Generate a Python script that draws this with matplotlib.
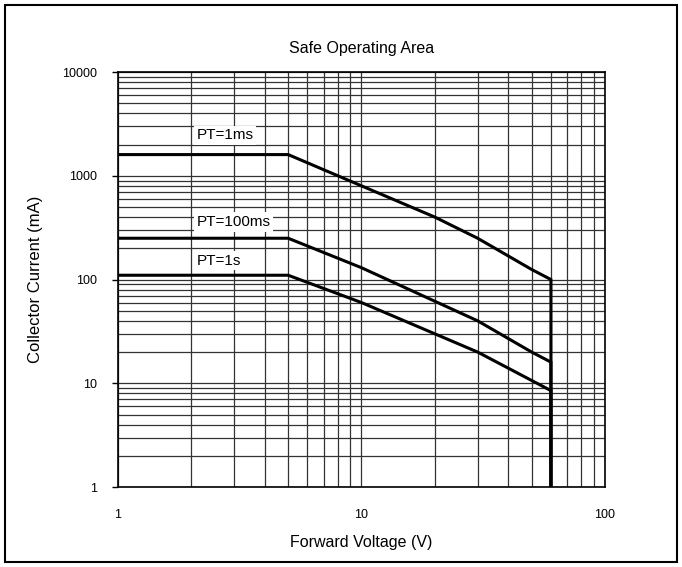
import matplotlib
matplotlib.use('Agg')
import matplotlib.pyplot as plt
from matplotlib.patches import Rectangle
from matplotlib.ticker import LogLocator, NullFormatter, FixedLocator

plt.rcParams['font.family'] = ['Liberation Sans', 'DejaVu Sans']

# safe operating area curves (V, mA)
v_1ms = [1, 5, 10, 20, 30, 50, 60, 60]
i_1ms = [1600, 1600, 800, 400, 250, 125, 100, 1]
v_100ms = [1, 5, 10, 30, 50, 60, 60]
i_100ms = [250, 250, 130, 40, 20, 16, 1]
v_1s = [1, 5, 10, 30, 60, 60]
i_1s = [110, 110, 60, 20, 8.5, 1]

labels = ['PT=1ms', 'PT=100ms', 'PT=1s']
label_pos = [(2.1, 2450), (2.1, 360), (2.1, 152)]

x_ticks = [1, 10, 100]
y_ticks = [1, 10, 100, 1000, 10000]

fig = plt.figure(figsize=(6.82, 5.67), dpi=100)
ax = fig.add_axes([0.173, 0.141, 0.714, 0.732])

ax.set_xscale('log')
ax.set_yscale('log')
ax.set_xlim(1, 100)
ax.set_ylim(1, 10000)

ax.xaxis.set_major_locator(FixedLocator(x_ticks))
ax.yaxis.set_major_locator(FixedLocator(y_ticks))
ax.set_xticklabels([str(t) for t in x_ticks])
ax.set_yticklabels([str(t) for t in y_ticks])
ax.xaxis.set_minor_locator(LogLocator(base=10, subs=range(2, 10)))
ax.yaxis.set_minor_locator(LogLocator(base=10, subs=range(2, 10)))
ax.xaxis.set_minor_formatter(NullFormatter())
ax.yaxis.set_minor_formatter(NullFormatter())

ax.grid(True, which='both', color='0.2', linewidth=0.9)
ax.tick_params(axis='x', which='both', length=0, pad=16, labelsize=9)
ax.tick_params(axis='y', which='major', length=4, width=1, pad=11, labelsize=9)
ax.tick_params(axis='y', which='minor', length=0)
for s in ax.spines.values():
    s.set_linewidth(1.2)

for v, i in [(v_1ms, i_1ms), (v_100ms, i_100ms), (v_1s, i_1s)]:
    ax.plot(v, i, color='black', linewidth=2.2, solid_joinstyle='miter')

for txt, (x, y) in zip(labels, label_pos):
    ax.text(x, y, txt, fontsize=11, va='center', ha='left',
            bbox=dict(facecolor='white', edgecolor='none', pad=2))

ax.set_title('Safe Operating Area', fontsize=11.5, pad=14)
ax.set_xlabel('Forward Voltage (V)', fontsize=11.5, labelpad=10)
ax.set_ylabel('Collector Current (mA)', fontsize=12, labelpad=14)

fig.patches.append(Rectangle((5 / 682, 5 / 567), 672 / 682, 557 / 567,
                             transform=fig.transFigure, fill=False,
                             edgecolor='black', linewidth=1.5))

fig.savefig('out.png', dpi=100)
plt.close()
